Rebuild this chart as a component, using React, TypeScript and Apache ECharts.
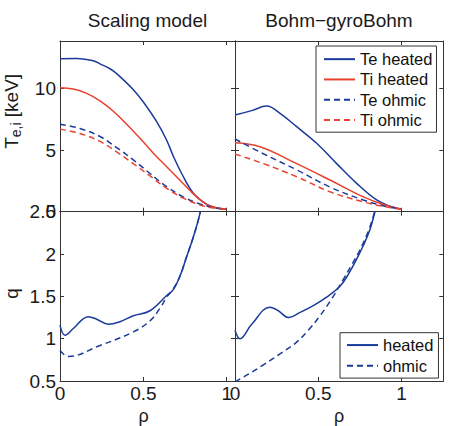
import React, { useEffect, useRef } from "react";
import * as echarts from "echarts";

// ---- Scaling model (left) ----
const rhoTeHeatedS = [0, 0.1, 0.16, 0.2, 0.24, 0.3, 0.34, 0.44, 0.5, 0.58, 0.64, 0.68, 0.73, 0.8, 0.88, 0.94, 1.0];
const teHeatedS = [12.4, 12.42, 12.35, 12.25, 12.0, 11.6, 11.2, 9.9, 8.9, 7.3, 5.8, 4.5, 3.1, 1.5, 0.6, 0.3, 0.2];
const rhoTiHeatedS = [0, 0.08, 0.16, 0.24, 0.32, 0.4, 0.48, 0.56, 0.64, 0.72, 0.8, 0.88, 0.94, 1.0];
const tiHeatedS = [10.05, 9.95, 9.6, 9.0, 8.15, 7.1, 5.95, 4.75, 3.65, 2.55, 1.45, 0.6, 0.32, 0.2];
const rhoOhmicS = [0, 0.12, 0.24, 0.34, 0.44, 0.54, 0.64, 0.74, 0.84, 0.92, 1.0];
const teOhmicS = [7.1, 6.75, 6.1, 5.2, 4.2, 3.1, 2.03, 1.2, 0.62, 0.35, 0.2];
const tiOhmicS = [6.7, 6.35, 5.7, 4.85, 3.9, 2.9, 1.9, 1.1, 0.55, 0.3, 0.2];

const rhoQHeatedS = [0, 0.03, 0.08, 0.17, 0.22, 0.29, 0.36, 0.44, 0.54, 0.64, 0.68, 0.72, 0.76, 0.8, 0.84, 0.88];
const qHeatedS = [1.16, 1.04, 1.12, 1.26, 1.23, 1.17, 1.2, 1.27, 1.33, 1.51, 1.58, 1.74, 1.97, 2.2, 2.48, 2.85];
const rhoQOhmicS = [0, 0.05, 0.24, 0.44, 0.54, 0.6, 0.64, 0.68, 0.72, 0.76, 0.8, 0.84, 0.88];
const qOhmicS = [0.86, 0.79, 0.92, 1.08, 1.21, 1.36, 1.49, 1.59, 1.74, 1.97, 2.2, 2.48, 2.85];

// ---- Bohm-gyroBohm (right) ----
const rhoTeHeatedB = [0, 0.1, 0.19, 0.27, 0.37, 0.49, 0.61, 0.73, 0.85, 0.93, 1.0];
const teHeatedB = [7.84, 8.2, 8.57, 7.98, 6.9, 5.55, 3.9, 2.3, 0.95, 0.45, 0.2];
const rhoTiHeatedB = [0, 0.15, 0.37, 0.57, 0.77, 0.9, 1.0];
const tiHeatedB = [5.6, 5.27, 3.9, 2.57, 1.2, 0.55, 0.2];
const rhoOhmicB = [0, 0.17, 0.37, 0.57, 0.77, 0.9, 1.0];
const teOhmicB = [5.9, 4.7, 3.4, 2.0, 0.95, 0.45, 0.2];
const tiOhmicB = [4.68, 3.9, 2.84, 1.62, 0.8, 0.4, 0.2];

const rhoQHeatedB = [0, 0.03, 0.1, 0.21, 0.26, 0.32, 0.4, 0.47, 0.55, 0.63, 0.68, 0.73, 0.77, 0.81, 0.84, 0.88];
const qHeatedB = [1.1, 1.0, 1.17, 1.37, 1.33, 1.25, 1.32, 1.39, 1.49, 1.62, 1.76, 1.94, 2.1, 2.29, 2.5, 2.8];
const rhoQOhmicB = [0, 0.08, 0.17, 0.27, 0.37, 0.44, 0.51, 0.58, 0.65, 0.7, 0.75, 0.8, 0.835, 0.87];
const qOhmicB = [0.49, 0.58, 0.69, 0.82, 0.96, 1.1, 1.27, 1.47, 1.7, 1.87, 2.05, 2.27, 2.48, 2.75];

const panelTitles = ["Scaling model", "Bohm\u2212gyroBohm"];
const tempLegend = ["Te heated", "Ti heated", "Te ohmic", "Ti ohmic"];
const qLegend = ["heated", "ohmic"];

const BLUE = "#1b3b9b";
const RED = "#e8412f";
const AX = "#333333";
const FONT = "Liberation Sans, Arial, Helvetica, sans-serif";

const zip = (xs: number[], ys: number[]) => xs.map((x, i) => [x, ys[i]]);

export default function App() {
  const ref = useRef<HTMLDivElement>(null);
  useEffect(() => {
    if (!ref.current) return;
    const chart = echarts.init(ref.current, null, { renderer: "svg" });

    const L = 60, M = 235, R = 443.3, T = 41, MID = 211.7, B = 382.7;
    const grids = [
      { left: L, top: T, width: M - L, height: MID - T },
      { left: M, top: T, width: R - M, height: MID - T },
      { left: L, top: MID, width: M - L, height: B - MID },
      { left: M, top: MID, width: R - M, height: B - MID },
    ];
    const xMax = [1.05, 1.25, 1.05, 1.25];
    const isMult = (v: number, step: number) => Math.abs(v / step - Math.round(v / step)) < 1e-6;

    const xAxis: any[] = [];
    const yAxis: any[] = [];
    for (let g = 0; g < 4; g++) {
      const showX = g >= 2;
      for (const pos of ["bottom", "top"]) {
        const main = pos === "bottom";
        xAxis.push({
          type: "value",
          gridIndex: g,
          position: pos,
          min: 0,
          max: xMax[g],
          interval: 0.5,
          splitLine: { show: false },
          axisLine: { show: true, onZero: false, lineStyle: { color: AX, width: 1 } },
          axisTick: { show: true, inside: true, length: 4, lineStyle: { color: AX } },
          axisLabel: {
            show: main && showX,
            margin: 3,
            fontSize: 19,
            fontFamily: FONT,
            color: "#1a1a1a",
            formatter: (v: number) => (isMult(v, 0.5) ? String(v) : ""),
          },
          name: main && showX ? "\u03c1" : "",
          nameLocation: "middle",
          nameGap: 26,
          nameTextStyle: { fontSize: 18, fontFamily: FONT, color: "#1a1a1a", padding: g === 2 ? [0, 8, 0, 0] : 0 },
        });
      }
      const top = g < 2;
      const showY = g % 2 === 0;
      for (const pos of ["left", "right"]) {
        const main = pos === "left";
        yAxis.push({
          type: "value",
          gridIndex: g,
          position: pos,
          min: top ? 0 : 0.5,
          max: top ? 13.85 : 2.5,
          interval: top ? 5 : 0.5,
          splitLine: { show: false },
          axisLine: { show: true, onZero: false, lineStyle: { color: AX, width: 1 } },
          axisTick: { show: true, inside: true, length: 4, lineStyle: { color: AX } },
          axisLabel: {
            show: main && showY,
            margin: 4,
            fontSize: 19,
            fontFamily: FONT,
            color: "#1a1a1a",
            formatter: (v: number) => (isMult(v, top ? 5 : 0.5) ? String(v) : ""),
          },
          name: main && showY ? (top ? "{a|T}{b|e,i}{a| [keV]}" : "{a|q}") : "",
          nameLocation: "middle",
          nameRotate: 90,
          nameGap: 37,
          nameTextStyle: {
            fontFamily: FONT,
            color: "#1a1a1a",
            padding: top ? [0, 0, 0, 30] : [0, 0, 0, 6],
            rich: {
              a: { fontSize: 19, fontFamily: FONT, color: "#1a1a1a", lineHeight: 24, verticalAlign: "middle" },
              b: { fontSize: 14, fontFamily: FONT, color: "#1a1a1a", lineHeight: 10, verticalAlign: "bottom" },
            },
          },
        });
      }
    }

    const line = (name: string, xi: number, data: number[][], color: string, dashed: boolean) => ({
      type: "line",
      name,
      xAxisIndex: xi * 2,
      yAxisIndex: xi * 2,
      data,
      symbol: "none",
      smooth: 0.4,
      clip: true,
      lineStyle: { color, width: 1.5, type: dashed ? [6, 4] : "solid" },
      itemStyle: { color },
    });

    const series = [
      line("Te heated", 0, zip(rhoTeHeatedS, teHeatedS), BLUE, false),
      line("Ti heated", 0, zip(rhoTiHeatedS, tiHeatedS), RED, false),
      line("Te ohmic", 0, zip(rhoOhmicS, teOhmicS), BLUE, true),
      line("Ti ohmic", 0, zip(rhoOhmicS, tiOhmicS), RED, true),
      line("Te heated", 1, zip(rhoTeHeatedB, teHeatedB), BLUE, false),
      line("Ti heated", 1, zip(rhoTiHeatedB, tiHeatedB), RED, false),
      line("Te ohmic", 1, zip(rhoOhmicB, teOhmicB), BLUE, true),
      line("Ti ohmic", 1, zip(rhoOhmicB, tiOhmicB), RED, true),
      line("heated", 2, zip(rhoQHeatedS, qHeatedS), BLUE, false),
      line("ohmic", 2, zip(rhoQOhmicS, qOhmicS), BLUE, true),
      line("heated", 3, zip(rhoQHeatedB, qHeatedB), BLUE, false),
      line("ohmic", 3, zip(rhoQOhmicB, qOhmicB), BLUE, true),
    ];

    const legendBase = {
      orient: "vertical",
      borderColor: AX,
      borderWidth: 1,
      borderRadius: 0,
      backgroundColor: "#ffffff",
      itemWidth: 31,
      itemHeight: 12,
      itemGap: 0,
      selectedMode: false,
      itemStyle: { opacity: 0, borderWidth: 0 },
      textStyle: { fontSize: 16.5, fontFamily: FONT, color: "#111", lineHeight: 20.3 },
    };

    chart.setOption({
      animation: false,
      backgroundColor: "#ffffff",
      grid: grids,
      xAxis,
      yAxis,
      series,
      legend: [
        { ...legendBase, data: tempLegend, left: 316, top: 46, padding: [3, 4, 2, 7] },
        { ...legendBase, data: qLegend, left: 340, top: 332.7, padding: [2, 5, 2, 6], textStyle: { ...legendBase.textStyle, lineHeight: 20.7 } },
      ],
      graphic: [
        { type: "text", x: 147.5, y: 20, style: { text: panelTitles[0], fill: "#1a1a1a", font: `19px ${FONT}`, textAlign: "center", textVerticalAlign: "middle" } },
        { type: "text", x: 339, y: 20, style: { text: panelTitles[1], fill: "#1a1a1a", font: `19px ${FONT}`, textAlign: "center", textVerticalAlign: "middle" } },
      ],
    });

    return () => chart.dispose();
  }, []);

  return <div ref={ref} style={{ position: "fixed", left: 0, top: 0, width: 450, height: 426 }} />;
}
